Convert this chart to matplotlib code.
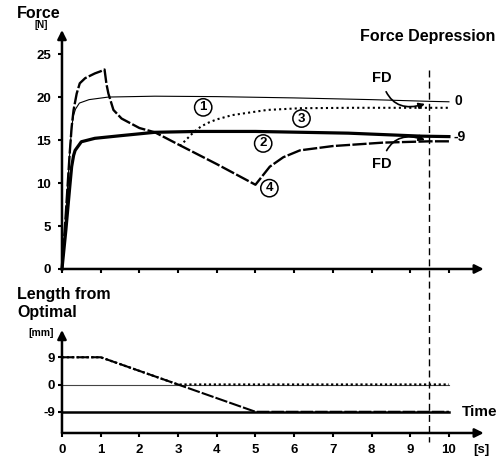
import numpy as np
import matplotlib.pyplot as plt

plt.rcParams['font.family'] = ['Liberation Sans', 'DejaVu Sans']
plt.rcParams['font.weight'] = 'bold'
plt.rcParams['axes.unicode_minus'] = False

# force traces (time [s], force [N])
t1 = [0, 0.1, 0.2, 0.25, 0.3, 0.35, 0.45, 0.7, 1.2, 2.4, 4, 6, 8, 9.5, 10]
f1 = [0, 6.5, 13.5, 16.5, 17.9, 18.6, 19.3, 19.7, 20.0, 20.1, 20.05, 19.9, 19.7, 19.5, 19.45]

t2 = [0, 0.1, 0.2, 0.25, 0.3, 0.34, 0.5, 0.85, 1.5, 2.4, 3.5, 5, 7.4, 9.3, 10]
f2 = [0, 4.5, 9.5, 11.9, 13.2, 13.8, 14.8, 15.2, 15.5, 15.9, 16.0, 16.0, 15.8, 15.45, 15.4]

t3 = [3.05, 3.2, 3.4, 3.6, 3.8, 4.0, 4.4, 5.0, 5.3, 6.15, 7.5, 10]
f3 = [14.3, 15.0, 15.9, 16.6, 17.05, 17.4, 17.9, 18.3, 18.5, 18.7, 18.75, 18.75]

t4 = [0, 0.1, 0.2, 0.25, 0.3, 0.38, 0.46, 0.6, 0.85, 1.0, 1.1, 1.15, 1.2, 1.33, 1.54,
      2.0, 2.4, 3.0, 4.0, 5.0, 5.37, 5.72, 6.15, 7.0, 8.3, 9.5, 10]
f4 = [0, 6.5, 13.5, 16.5, 18.5, 20.4, 21.6, 22.2, 22.75, 23.0, 23.2, 21.5, 20.4, 18.5, 17.5,
      16.4, 15.9, 14.5, 12.2, 9.8, 11.9, 13.0, 13.8, 14.3, 14.7, 14.85, 14.85]

# length protocols (time [s], length from optimal [mm])
lt1 = [0, 10]
l1 = [0, 0]
lt2 = [0, 10]
l2 = [-9, -9]
lt3 = [0, 1, 3, 10]
l3 = [9, 9, 0, 0]
lt4 = [0, 1, 5, 10]
l4 = [9, 9, -9, -9]

force_ticks = [0, 5, 10, 15, 20, 25]
length_ticks = [-9, 0, 9]
time_ticks = list(range(11))

fig = plt.figure(figsize=(4.99, 4.58), dpi=100)

top = fig.add_axes([0.1242, 0.4127, 0.853, 0.5218])
bot = fig.add_axes([0.1242, 0.0546, 0.853, 0.2249])

for ax in (top, bot):
    for s in ax.spines.values():
        s.set_visible(False)
    ax.set_xlim(0, 11)
    ax.set_xticks(time_ticks)
    ax.tick_params(axis='both', length=3, width=1.5, labelsize=9.5)

# top panel
top.set_ylim(0, 27.8)
top.set_yticks(force_ticks)
top.set_yticklabels([str(v) for v in force_ticks], fontweight='bold')
top.tick_params(axis='x', labelbottom=False)
top.tick_params(axis='y', pad=5)
top.annotate('', xy=(10.9, 0), xytext=(0, 0), annotation_clip=False,
             arrowprops=dict(arrowstyle='-|>', lw=1.8, color='k', mutation_scale=13, shrinkA=0, shrinkB=0))
top.annotate('', xy=(0, 27.8), xytext=(0, 0), annotation_clip=False,
             arrowprops=dict(arrowstyle='-|>', lw=1.8, color='k', mutation_scale=13, shrinkA=0, shrinkB=0))

top.plot(t1, f1, color='k', lw=0.8, clip_on=False)
top.plot(t2, f2, color='k', lw=2.3, clip_on=False)
top.plot(t3, f3, color='k', lw=1.5, ls=(0, (1, 1.5)))
top.plot(t4, f4, color='k', lw=1.7, ls=(0, (6, 1)), clip_on=False)

circ = dict(boxstyle='circle,pad=0.2', fc='white', ec='k', lw=1.1)
top.text(3.65, 18.8, '1', fontsize=9.5, ha='center', va='center', bbox=circ)
top.text(5.2, 14.6, '2', fontsize=9.5, ha='center', va='center', bbox=circ)
top.text(6.19, 17.5, '3', fontsize=9.5, ha='center', va='center', bbox=circ)
top.text(5.36, 9.4, '4', fontsize=9.5, ha='center', va='center', bbox=circ)

top.annotate('FD', xy=(9.38, 19.2), xytext=(8.26, 22.2), fontsize=10.5, ha='center', va='center',
             arrowprops=dict(arrowstyle='-|>', lw=1.2, color='k', mutation_scale=9,
                             connectionstyle='arc3,rad=0.55', shrinkA=3, shrinkB=0))
top.annotate('FD', xy=(9.38, 15.0), xytext=(8.26, 12.2), fontsize=10.5, ha='center', va='center',
             arrowprops=dict(arrowstyle='-|>', lw=1.2, color='k', mutation_scale=9,
                             connectionstyle='arc3,rad=-0.55', shrinkA=3, shrinkB=0))
top.text(10.15, 19.5, '0', fontsize=10, va='center')
top.text(10.12, 15.4, '-9', fontsize=10, va='center')

# bottom panel
bot.set_ylim(-16, 18)
bot.set_yticks(length_ticks)
bot.set_yticklabels([str(v) for v in length_ticks], fontweight='bold')
bot.set_xticklabels([str(v) for v in time_ticks], fontweight='bold')
bot.tick_params(axis='y', pad=2)
bot.tick_params(axis='x', pad=5)
bot.annotate('', xy=(10.9, -16), xytext=(0, -16), annotation_clip=False,
             arrowprops=dict(arrowstyle='-|>', lw=1.8, color='k', mutation_scale=13, shrinkA=0, shrinkB=0))
bot.annotate('', xy=(0, 18), xytext=(0, -16), annotation_clip=False,
             arrowprops=dict(arrowstyle='-|>', lw=1.8, color='k', mutation_scale=13, shrinkA=0, shrinkB=0))

bot.plot(lt1, l1, color='#444444', lw=0.8)
bot.plot(lt2, l2, color='k', lw=1.8)
bot.plot(lt4, l4, color='k', lw=1.5, ls=(0, (6, 1)))
bot.plot(lt3, l3, color='k', lw=1.6, ls=(0, (1, 1.2)))
bot.text(10.33, -9.2, 'Time', fontsize=11, va='center')

# force depression marker
fig.add_artist(plt.Line2D([0.86, 0.86], [0.847, 0.035], transform=fig.transFigure,
                          color='k', lw=1, ls=(0, (5, 3))))

fig.text(0.034, 0.9716, 'Force', fontsize=11.5, va='center')
fig.text(0.070, 0.945, '[N]', fontsize=7, va='center')
fig.text(0.992, 0.92, 'Force Depression', fontsize=11.5, va='center', ha='right')
fig.text(0.034, 0.356, 'Length from', fontsize=11.5, va='center')
fig.text(0.034, 0.3166, 'Optimal', fontsize=11.5, va='center')
fig.text(0.056, 0.273, '[mm]', fontsize=7.5, va='center')
fig.text(0.948, 0.0175, '[s]', fontsize=9.5, va='center')

fig.savefig('out.png', dpi=100)
